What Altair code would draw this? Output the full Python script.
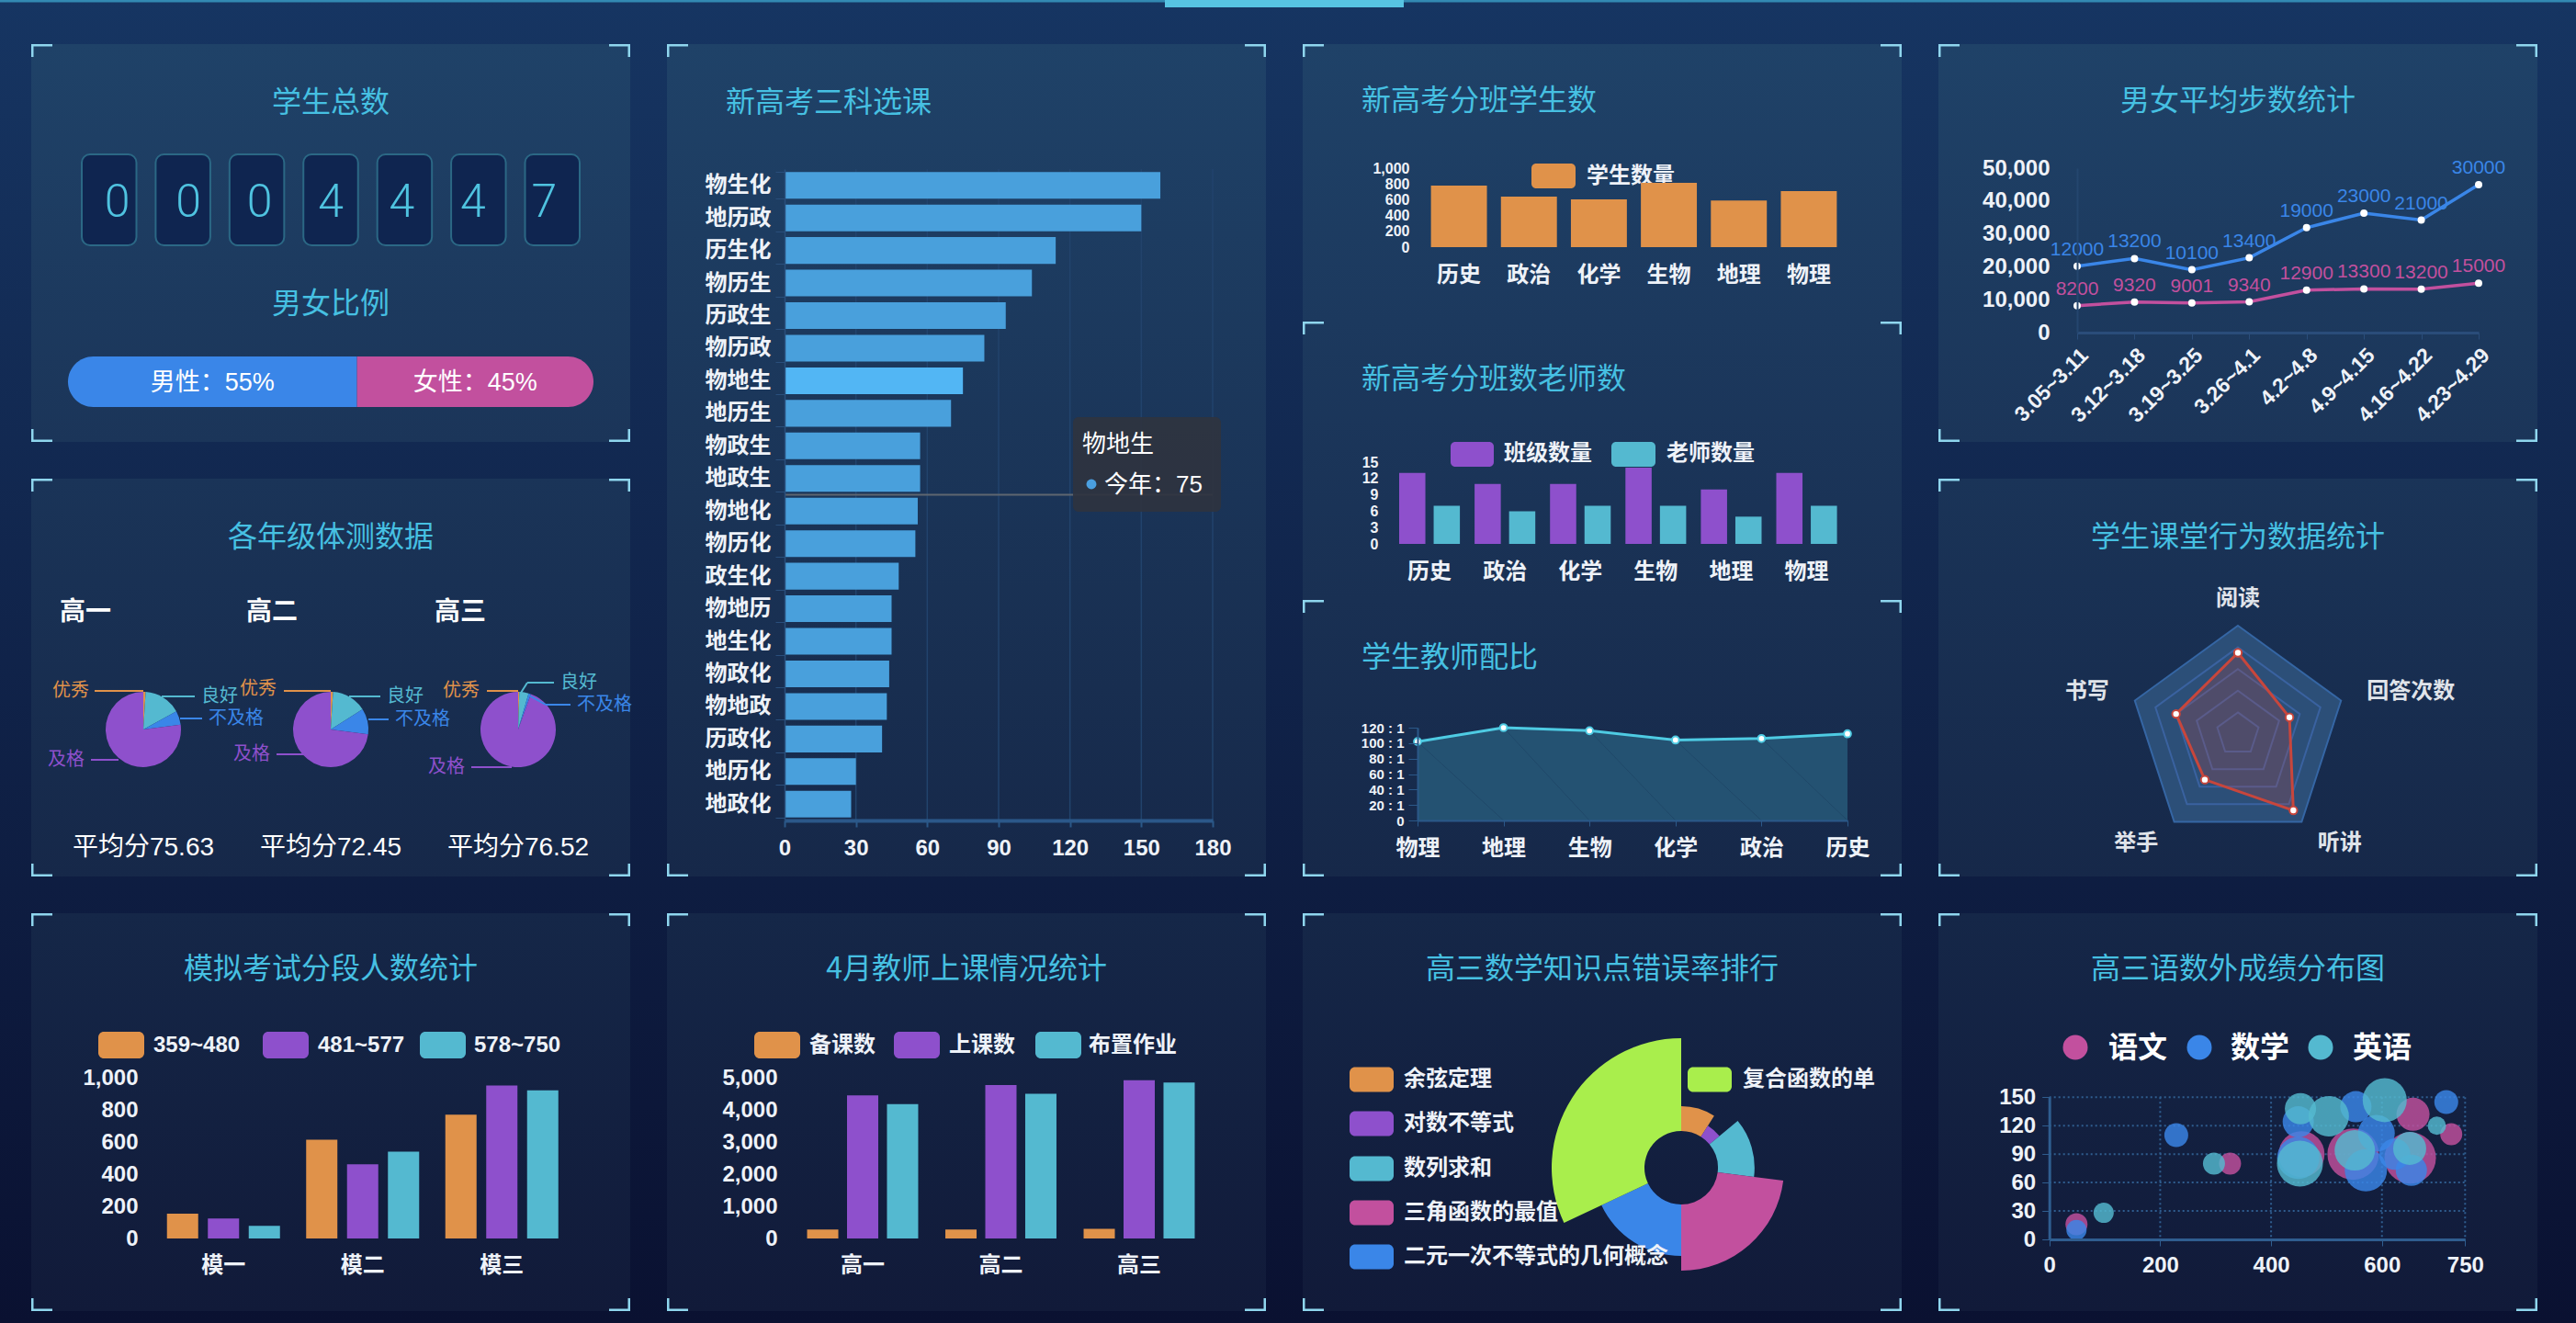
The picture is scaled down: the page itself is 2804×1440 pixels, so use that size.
import altair as alt
import pandas as pd

W, H = 2804, 1440
FONT = "Liberation Sans, Noto Sans CJK SC, sans-serif"
TFONT = "Noto Sans CJK SC, Liberation Sans, sans-serif"
LABEL = "#eef2f8"
TITLE = "#46c0e2"
ORANGE, PURPLE, TEAL, BLUE, PINK, LIME = "#e0924a", "#8e50cc", "#54b9d0", "#3a86e8", "#c2509e", "#a9ee4c"
BAR, BAR_HI = "#49a0dc", "#52b6f4"
AXC = "#2b5889"
GRIDC = "#22436c"
BRACKET = "#8fd6ee"
ZW = "\u200b"

# ------------------------------------------------------------------ data
total_digits = ["0", "0", "0", "4", "4", "4", "7"]
gender_names = ["男性", "女性"]
gender_ratio = [55, 45]

combo_names = ["物生化", "地历政", "历生化", "物历生", "历政生", "物历政", "物地生", "地历生", "物政生", "地政生",
               "物地化", "物历化", "政生化", "物地历", "地生化", "物政化", "物地政", "历政化", "地历化", "地政化"]
combo_counts = [158, 150, 114, 104, 93, 84, 75, 70, 57, 57, 56, 55, 48, 45, 45, 44, 43, 41, 30, 28]
combo_ticks = [0, 30, 60, 90, 120, 150, 180]
highlight_combo = "物地生"
tooltip_series = "今年"

class_subjects = ["历史", "政治", "化学", "生物", "地理", "物理"]
class_students = [780, 640, 605, 815, 590, 710]
student_ticks = [0, 200, 400, 600, 800, 1000]
class_series = ["班级数量", "老师数量"]
class_counts = [13, 11, 11, 14, 10, 13]
teacher_counts = [7, 6, 7, 7, 5, 7]
teacher_ticks = [0, 3, 6, 9, 12, 15]

ratio_subjects = ["物理", "地理", "生物", "化学", "政治", "历史"]
ratio_values = [102, 120, 116, 104, 106, 112]
ratio_ticks = [0, 20, 40, 60, 80, 100, 120]

weeks = ["3.05~3.11", "3.12~3.18", "3.19~3.25", "3.26~4.1", "4.2~4.8", "4.9~4.15", "4.16~4.22", "4.23~4.29"]
girls_steps = [8200, 9320, 9001, 9340, 12900, 13300, 13200, 15000]
boys_steps = [12000, 13200, 10100, 13400, 19000, 23000, 21000, 30000]
step_ticks = [0, 10000, 20000, 30000, 40000, 50000]

grades = ["高一", "高二", "高三"]
fitness_levels = ["优秀", "良好", "不及格", "及格"]
fitness_values = {"高一": [1, 16, 6, 77], "高二": [1, 15, 11, 73], "高三": [0.5, 4, 1, 94.5]}
avg_scores = ["75.63", "72.45", "76.52"]

behaviors = ["阅读", "回答次数", "听讲", "举手", "书写"]
behavior_values = [75, 50, 87, 52, 60]
radar_levels = [20, 40, 60, 80, 100]

mock_exams = ["模一", "模二", "模三"]
score_bands = ["359~480", "481~577", "578~750"]
band_359 = [155, 615, 770]
band_481 = [125, 462, 952]
band_578 = [78, 540, 922]
mock_ticks = [0, 200, 400, 600, 800, 1000]

teach_grades = ["高一", "高二", "高三"]
teach_items = ["备课数", "上课数", "布置作业"]
prep_counts = [280, 280, 300]
lesson_counts = [4450, 4770, 4920]
homework_counts = [4180, 4500, 4850]
teach_ticks = [0, 1000, 2000, 3000, 4000, 5000]

topics = ["余弦定理", "对数不等式", "数列求和", "三角函数的最值", "二元一次不等式的几何概念", "复合函数的单调性"]
topic_error = [9, 5, 13, 23, 18, 32]

score_subjects = ["语文", "数学", "英语"]
chinese_x = [49, 326, 725, 656, 455, 548, 651]
chinese_y = [16, 80, 111, 132, 90, 90, 86]
chinese_s = [12, 12, 12, 18, 25, 28, 28]
math_x = [49, 229, 716, 553, 449, 449, 571, 590, 653, 623]
math_y = [10, 110, 145, 140, 124, 86, 73, 112, 73, 90]
math_s = [11, 13, 13, 17, 17, 23, 23, 20, 17, 17]
english_x = [98, 297, 699, 605, 504, 453, 452, 551, 650]
english_y = [28, 80, 120, 147, 130, 138, 80, 94, 96]
english_s = [11, 12, 10, 24, 22, 17, 25, 22, 18]
scatter_x_ticks = [0, 200, 400, 600, 750]
scatter_y_ticks = [0, 30, 60, 90, 120, 150]

# ------------------------------------------------------------------ helpers
DUMMY = pd.DataFrame({"d": [0]})


def mix(c1, c2, t):
    t = max(0.0, min(1.0, t))
    a = [int(c1[i:i + 2], 16) for i in (1, 3, 5)]
    b = [int(c2[i:i + 2], 16) for i in (1, 3, 5)]
    return "#" + "".join(f"{round(a[i] + (b[i] - a[i]) * t):02x}" for i in range(3))


def page_col(y):
    return mix("#163562", "#0a1131", y / H)


def panel_col(y):
    return mix("#1f4268", "#111a39", (y - 48) / (1427 - 48))


def grad(c1, c2):
    return {"gradient": "linear", "x1": 0, "x2": 0, "y1": 0, "y2": 1,
            "stops": [{"offset": 0, "color": c1}, {"offset": 1, "color": c2}]}


def rect(x1, x2, y1, y2, fill, **kw):
    return alt.Chart(DUMMY).mark_rect(fill=fill, **kw).encode(
        x=alt.value(x1), x2=alt.value(x2), y=alt.value(y1), y2=alt.value(y2))


def seg(x1, y1, x2, y2, color, width=2):
    return alt.Chart(DUMMY).mark_rule(color=color, strokeWidth=width).encode(
        x=alt.value(x1), y=alt.value(y1), x2=alt.value(x2), y2=alt.value(y2))


def T(s, x, y, size=24, color=LABEL, align="left", weight="bold", font=FONT, baseline="middle", **kw):
    return alt.Chart(pd.DataFrame({"t": [s]})).mark_text(
        align=align, baseline=baseline, fontSize=size, color=color, font=font, fontWeight=weight, **kw
    ).encode(x=alt.value(x), y=alt.value(y), text="t:N")


def title(s, x, y, align="center"):
    return T(s, x, y + 2, size=32, color=TITLE, align=align, weight="normal", font=TFONT)


def ax(orient, pos, **kw):
    off = (pos - H) if orient == "bottom" else -pos
    d = dict(orient=orient, offset=off, title=None, grid=False, labelFont=FONT, labelFontSize=24,
             labelColor=LABEL, labelFontWeight="bold", labelOverlap=False, labelFlush=False,
             domain=False, ticks=False, tickSize=0, labelPadding=0, zindex=1)
    if orient == "bottom":
        d["labelAngle"] = 0
    d.update(kw)
    return alt.Axis(**d)


layers = []

# ------------------------------------------------------------------ page + panels
layers.append(rect(0, W, 0, H, grad(page_col(0), page_col(H))))
layers.append(rect(0, W, 0, 2.5, "#3389b2"))
layers.append(rect(1268, 1528, 0, 8, "#57c3e2"))

PANELS = [
    (34, 686, 48, 481, True, True),
    (726, 1378, 48, 954, True, True),
    (1418, 2070, 48, 350, True, False),
    (1418, 2070, 350, 653, True, False),
    (1418, 2070, 653, 954, True, True),
    (2110, 2762, 48, 481, True, True),
    (34, 686, 521, 954, True, True),
    (2110, 2762, 521, 954, True, True),
    (34, 686, 994, 1427, True, True),
    (726, 1378, 994, 1427, True, True),
    (1418, 2070, 994, 1427, True, True),
    (2110, 2762, 994, 1427, True, True),
]
for x0, x1, y0, y1, top, bot in PANELS:
    layers.append(rect(x0, x1, y0, y1, grad(panel_col(y0), panel_col(y1))))
for x0, x1, y0, y1, top, bot in PANELS:
    L, S, TH = 23, 14, 2.5
    if top:
        layers += [rect(x0, x0 + L, y0, y0 + TH, BRACKET), rect(x0, x0 + TH, y0, y0 + S, BRACKET),
                   rect(x1 - L, x1, y0, y0 + TH, BRACKET), rect(x1 - TH, x1, y0, y0 + S, BRACKET)]
    if bot:
        layers += [rect(x0, x0 + L, y1 - TH, y1, BRACKET), rect(x0, x0 + TH, y1 - S, y1, BRACKET),
                   rect(x1 - L, x1, y1 - TH, y1, BRACKET), rect(x1 - TH, x1, y1 - S, y1, BRACKET)]

# titles
layers += [
    title("学生总数", 360, 110), title("男女比例", 360, 329),
    title("新高考三科选课", 790, 110, "left"),
    title("新高考分班学生数", 1482, 108, "left"),
    title("新高考分班数老师数", 1482, 411, "left"),
    title("学生教师配比", 1482, 714, "left"),
    title("男女平均步数统计", 2436, 108),
    title("各年级体测数据", 360, 583),
    title("学生课堂行为数据统计", 2436, 583),
    title("模拟考试分段人数统计", 360, 1053),
    title("4月教师上课情况统计", 1052, 1053),
    title("高三数学知识点错误率排行", 1744, 1053),
    title("高三语数外成绩分布图", 2436, 1053),
]

# ------------------------------------------------------------------ A: total + gender
df_dig = pd.DataFrame({"slot": [f"s{i}" for i in range(len(total_digits))], "digit": total_digits})
xA = alt.X("slot:N", sort=None, scale=alt.Scale(range=[89, 631], paddingInner=0.26, paddingOuter=0), axis=None)
layers.append(alt.Chart(df_dig).mark_rect(fill="#0f2550", stroke="#2b6885", strokeWidth=2, cornerRadius=9)
              .encode(x=xA, y=alt.value(168), y2=alt.value(267)))
layers.append(alt.Chart(df_dig).mark_text(fontSize=50, font="Roboto, Liberation Sans, sans-serif", fontWeight=300,
                                          color="#4fc3e0", baseline="middle")
              .encode(x=xA, y=alt.value(221), text="digit:N"))

df_gen = pd.DataFrame({"g": gender_names, "p": gender_ratio, "o": [0, 1]})
sA = alt.Scale(domain=[0, 100], range=[74, 646], nice=False)


def gstack(ch):
    return ch.transform_stack(stack="p", groupby=[], as_=["p0", "p1"], sort=[alt.SortField("o", order="ascending")])


layers.append(gstack(alt.Chart(df_gen)).transform_filter(alt.datum.o == 0)
              .mark_rect(color=BLUE, cornerRadiusTopLeft=27.5, cornerRadiusBottomLeft=27.5)
              .encode(x=alt.X("p0:Q", scale=sA, axis=None), x2="p1:Q", y=alt.value(388), y2=alt.value(443)))
layers.append(gstack(alt.Chart(df_gen)).transform_filter(alt.datum.o == 1)
              .mark_rect(color=PINK, cornerRadiusTopRight=27.5, cornerRadiusBottomRight=27.5)
              .encode(x=alt.X("p0:Q", scale=sA, axis=None), x2="p1:Q", y=alt.value(388), y2=alt.value(443)))
layers.append(gstack(alt.Chart(df_gen))
              .transform_calculate(mid="(datum.p0 + datum.p1) / 2", lbl="datum.g + '：' + datum.p + '%'")
              .mark_text(fontSize=27, font=FONT, color="white", baseline="middle")
              .encode(x=alt.X("mid:Q", scale=sA, axis=None), y=alt.value(417), text="lbl:N"))

# ------------------------------------------------------------------ B: horizontal bar
df_combo = pd.DataFrame({"combo": combo_names, "count": combo_counts})
sBx = alt.Scale(domain=[0, 180], range=[854, 1320], nice=False, zero=True)
sBy = alt.Scale(range=[184, 893], paddingInner=0.18, paddingOuter=0.09)
layers.append(alt.Chart(pd.DataFrame({"t": combo_ticks[1:]})).mark_rule(color=GRIDC, strokeWidth=1.5)
              .encode(x=alt.X("t:Q", scale=sBx, axis=None), y=alt.value(184), y2=alt.value(893)))
layers.append(alt.Chart(df_combo).mark_bar().encode(
    x=alt.X("count:Q", scale=sBx,
            axis=ax("bottom", 893, values=combo_ticks, domain=True, domainColor=AXC, domainWidth=4,
                    ticks=True, tickSize=7, tickColor=AXC, tickWidth=2, labelPadding=11, format="d")),
    y=alt.Y("combo:N", sort=combo_names, scale=sBy,
            axis=ax("left", 854, domain=True, domainColor="#2a4f7c", domainWidth=1.5, ticks=True, tickSize=10,
                    tickColor="#2a4f7c", tickBand="extent", labelPadding=5, labelFont=TFONT)),
    color=alt.condition(alt.datum.combo == highlight_combo, alt.value(BAR_HI), alt.value(BAR))))
layers.append(alt.Chart(df_combo).transform_filter(alt.datum.combo == highlight_combo)
              .mark_rule(color="#5f6670", strokeWidth=2)
              .encode(y=alt.Y("combo:N", sort=combo_names, scale=sBy, axis=None),
                      x=alt.value(854), x2=alt.value(1320)))
layers.append(rect(1168, 1329, 454, 557, "#2e3440", opacity=0.93, cornerRadius=6))
layers.append(alt.Chart(df_combo).transform_filter(alt.datum.combo == highlight_combo)
              .mark_text(align="left", baseline="middle", fontSize=26, font=FONT, color="white")
              .encode(x=alt.value(1178), y=alt.value(484), text="combo:N"))
layers.append(alt.Chart(DUMMY).mark_circle(color="#4a9fe0", size=120, opacity=1)
              .encode(x=alt.value(1188), y=alt.value(527)))
layers.append(alt.Chart(df_combo).transform_filter(alt.datum.combo == highlight_combo)
              .transform_calculate(lbl=f"'{tooltip_series}：' + datum.count")
              .mark_text(align="left", baseline="middle", fontSize=26, font=FONT, color="white")
              .encode(x=alt.value(1202), y=alt.value(528), text="lbl:N"))

# ------------------------------------------------------------------ C1: students per class
df_cs = pd.DataFrame({"sub": class_subjects, "n": class_students})
layers.append(rect(1667, 1715, 178, 205, ORANGE, cornerRadius=5))
layers.append(T("学生数量", 1727, 192, font=TFONT))
layers.append(alt.Chart(df_cs).mark_bar(color=ORANGE).encode(
    x=alt.X("sub:N", sort=class_subjects, scale=alt.Scale(range=[1550, 2007], paddingInner=0.2, paddingOuter=0.1),
            axis=ax("bottom", 269, labelPadding=18, labelFont=TFONT)),
    y=alt.Y("n:Q", scale=alt.Scale(domain=[0, 1000], range=[269, 183], nice=False),
            axis=ax("left", 1534, values=student_ticks, format=",d", labelFontSize=16))))

# ------------------------------------------------------------------ C2: classes & teachers
rows = []
for i, s in enumerate(class_subjects):
    rows.append({"sub": s, "ser": class_series[0], "n": class_counts[i]})
    rows.append({"sub": s, "ser": class_series[1], "n": teacher_counts[i]})
df_ct = pd.DataFrame(rows)
layers.append(rect(1579, 1626, 481, 508, PURPLE, cornerRadius=5))
layers.append(T(class_series[0], 1637, 494, font=TFONT))
layers.append(rect(1754, 1802, 481, 508, TEAL, cornerRadius=5))
layers.append(T(class_series[1], 1814, 494, font=TFONT))
layers.append(alt.Chart(df_ct).mark_bar().encode(
    x=alt.X("sub:N", sort=class_subjects, scale=alt.Scale(range=[1515, 2007.6], paddingInner=0, paddingOuter=0),
            axis=ax("bottom", 592, labelPadding=18, labelFont=TFONT)),
    xOffset=alt.XOffset("ser:N", sort=class_series, scale=alt.Scale(paddingInner=0.24, paddingOuter=0.213)),
    y=alt.Y("n:Q", scale=alt.Scale(domain=[0, 15], range=[592, 503], nice=False),
            axis=ax("left", 1500, values=teacher_ticks, format="d", labelFontSize=16)),
    color=alt.Color("ser:N", scale=alt.Scale(domain=class_series, range=[PURPLE, TEAL]), legend=None)))

# ------------------------------------------------------------------ C3: student/teacher ratio
df_ratio = pd.DataFrame({"sub": ratio_subjects, "v": ratio_values, "i": range(len(ratio_subjects))})
sC3x = alt.Scale(type="point", range=[1543, 2011], padding=0)
sC3y = alt.Scale(domain=[0, 120], range=[893, 792], nice=False)
layers.append(alt.Chart(df_ratio).mark_area(color="#245272", opacity=1).encode(
    x=alt.X("sub:N", sort=ratio_subjects, scale=sC3x,
            axis=ax("bottom", 893, domain=True, domainColor=AXC, domainWidth=2, ticks=True, tickSize=6,
                    tickColor=AXC, labelPadding=12, labelFont=TFONT)),
    y=alt.Y("v:Q", scale=sC3y,
            axis=ax("left", 1543, values=ratio_ticks, domain=True, domainColor=AXC, domainWidth=2, ticks=True,
                    tickSize=10, tickColor=AXC, labelPadding=5, labelFontSize=15, format="d",
                    labelExpr="datum.value == 0 ? '0' : datum.label + ' : 1'")),
    order=alt.Order("i:Q")))
layers.append(alt.Chart(df_ratio).mark_line(color="#4ecbe3", strokeWidth=3).encode(
    x=alt.X("sub:N", sort=ratio_subjects, scale=sC3x, axis=None),
    y=alt.Y("v:Q", scale=sC3y, axis=None), order=alt.Order("i:Q")))
layers.append(alt.Chart(df_ratio).mark_point(filled=True, fill="white", stroke="#4ecbe3", strokeWidth=2,
                                             size=60, opacity=1).encode(
    x=alt.X("sub:N", sort=ratio_subjects, scale=sC3x, axis=None),
    y=alt.Y("v:Q", scale=sC3y, axis=None)))

# ------------------------------------------------------------------ D: stacked steps line
rows = []
for i, w in enumerate(weeks):
    rows.append({"week": w, "sex": "女", "steps": girls_steps[i], "o": 0, "wi": i})
    rows.append({"week": w, "sex": "男", "steps": boys_steps[i], "o": 1, "wi": i})
df_steps = pd.DataFrame(rows)


def dstack(ch):
    return ch.transform_stack(stack="steps", groupby=["week"], as_=["s0", "s1"],
                              sort=[alt.SortField("o", order="ascending")])


sDx = alt.Scale(type="point", range=[2261, 2698], padding=0)
sDy = alt.Scale(domain=[0, 50000], range=[362, 183], nice=False)
colD = alt.Color("sex:N", scale=alt.Scale(domain=["男", "女"], range=[BLUE, PINK]), legend=None)
layers.append(dstack(alt.Chart(df_steps)).mark_line(strokeWidth=3.5).encode(
    x=alt.X("week:N", sort=weeks, scale=sDx,
            axis=ax("bottom", 362, domain=True, domainColor="#2a4d7a", domainWidth=3, ticks=True, tickSize=7,
                    tickColor="#2a4d7a", labelAngle=315, labelFontSize=23, labelPadding=6)),
    y=alt.Y("s1:Q", scale=sDy,
            axis=ax("left", 2261, values=step_ticks, format=",d", domain=True, domainColor="#24466f",
                    domainWidth=2, labelPadding=30)),
    color=colD, order=alt.Order("wi:Q")))
layers.append(dstack(alt.Chart(df_steps)).mark_circle(color="white", size=64, opacity=1).encode(
    x=alt.X("week:N", sort=weeks, scale=sDx, axis=None),
    y=alt.Y("s1:Q", scale=sDy, axis=None)))
layers.append(dstack(alt.Chart(df_steps)).mark_text(baseline="bottom", dy=-8, fontSize=21, font=FONT).encode(
    x=alt.X("week:N", sort=weeks, scale=sDx, axis=None),
    y=alt.Y("s1:Q", scale=sDy, axis=None),
    text=alt.Text("steps:Q", format="d"), color=colD))

# ------------------------------------------------------------------ E: fitness pies
rows = []
for g in grades:
    for k, lv in enumerate(fitness_levels):
        rows.append({"grade": g, "level": lv, "v": fitness_values[g][k], "k": k})
df_fit = pd.DataFrame(rows)
LVCOL = [ORANGE, TEAL, BLUE, PURPLE]
colE = alt.Color("level:N", scale=alt.Scale(domain=fitness_levels, range=LVCOL), legend=None)
pie_cx = [156, 360, 564]
for gi, g in enumerate(grades):
    layers.append(T(g, [65, 268, 473][gi], 667, size=28, color="white", font=TFONT))
    layers.append(alt.Chart(df_fit).transform_filter(alt.datum.grade == g).mark_arc(radius=41).encode(
        theta=alt.Theta("v:Q", stack=True), color=colE, order=alt.Order("k:Q"),
        x=alt.value(pie_cx[gi]), y=alt.value(794)))
    layers.append(T("平均分" + avg_scores[gi], pie_cx[gi], 923, size=28, color="white", align="center",
                    weight="normal"))

# label layout (style): per grade, per level -> (text x, text y, align, leader segments)
E_LAYOUT = [
    [(97, 752, "right", [(103, 752, 156, 752)]),
     (219, 758, "left", [(176, 758, 212, 758)]),
     (227, 782, "left", [(196, 782, 220, 782)]),
     (92, 827, "right", [(99, 827, 129, 827)])],
    [(301, 750, "right", [(309, 752, 360, 752)]),
     (421, 758, "left", [(380, 758, 414, 758)]),
     (430, 783, "left", [(401, 783, 423, 783)]),
     (294, 821, "right", [(301, 821, 331, 821)])],
    [(522, 752, "right", [(530, 752, 564, 752)]),
     (610, 743, "left", [(567, 754, 574, 743), (574, 743, 603, 743)]),
     (628, 767, "left", [(576, 757, 594, 767), (594, 767, 621, 767)]),
     (506, 835, "right", [(513, 835, 557, 835)])],
]
for gi in range(3):
    for k, lv in enumerate(fitness_levels):
        tx, ty, al, segs = E_LAYOUT[gi][k]
        for (a, b, c, d) in segs:
            layers.append(seg(a, b, c, d, LVCOL[k], 2))
        layers.append(T(lv, tx, ty, size=20, color=LVCOL[k], align=al, weight="normal", font=TFONT))

# ------------------------------------------------------------------ F: radar
df_beh = pd.DataFrame({"dim": behaviors, "val": behavior_values, "idx": range(5)})
rows = [{"level": lv, "idx": i, "val": lv} for lv in radar_levels for i in range(5)]
df_grid = pd.DataFrame(rows)
sRx = alt.Scale(domain=[-100, 100], range=[2318, 2554], nice=False, zero=False)
sRy = alt.Scale(domain=[-100, 100], range=[917, 681], nice=False, zero=False)


def polar(ch, r="datum.val"):
    return ch.transform_calculate(ang="datum.idx * 2 * PI / 5").transform_calculate(
        px=f"{r} * sin(datum.ang)").transform_calculate(py=f"{r} * cos(datum.ang)")


RX = alt.X("px:Q", scale=sRx, axis=None)
RY = alt.Y("py:Q", scale=sRy, axis=None)
layers.append(polar(alt.Chart(df_grid)).transform_filter(alt.datum.level == 100)
              .mark_line(interpolate="linear-closed", fill="#2c4f78", stroke="#3566a4", strokeWidth=2)
              .encode(x=RX, y=RY, order=alt.Order("idx:Q")))
layers.append(polar(alt.Chart(df_grid)).transform_filter(alt.datum.level < 100)
              .mark_line(interpolate="linear-closed", stroke="#3a62a0", strokeWidth=2)
              .encode(x=RX, y=RY, detail="level:N", order=alt.Order("idx:Q")))
layers.append(polar(alt.Chart(df_beh))
              .mark_line(interpolate="linear-closed", fill="rgba(205,70,60,0.22)", stroke="#c8463c", strokeWidth=3)
              .encode(x=RX, y=RY, order=alt.Order("idx:Q")))
layers.append(polar(alt.Chart(df_beh))
              .mark_point(filled=True, fill="white", stroke="#c8463c", strokeWidth=2, size=70, opacity=1)
              .encode(x=RX, y=RY))
for al, cond in [("center", "datum.idx == 0"), ("left", "datum.idx == 1 || datum.idx == 2"),
                 ("right", "datum.idx == 3 || datum.idx == 4")]:
    layers.append(polar(alt.Chart(df_beh), r="125").transform_filter(cond)
                  .mark_text(align=al, baseline="middle", fontSize=24, font=TFONT, fontWeight="bold",
                             color="#e0e4ea")
                  .encode(x=RX, y=RY, text="dim:N"))

# ------------------------------------------------------------------ G: mock exam grouped bars
rows = []
for i, e in enumerate(mock_exams):
    for b, vals in zip(score_bands, [band_359, band_481, band_578]):
        rows.append({"exam": e, "band": b, "n": vals[i]})
df_mock = pd.DataFrame(rows)
for j, (x0, tx) in enumerate([(107, 167), (286, 346), (457, 516)]):
    layers.append(rect(x0, x0 + 50, 1123, 1152, [ORANGE, PURPLE, TEAL][j], cornerRadius=6))
    layers.append(T(score_bands[j], tx, 1138))
layers.append(alt.Chart(df_mock).mark_bar().encode(
    x=alt.X("exam:N", sort=mock_exams, scale=alt.Scale(range=[167.5, 622], paddingInner=0, paddingOuter=0),
            axis=ax("bottom", 1348, labelPadding=17, labelFont=TFONT)),
    xOffset=alt.XOffset("band:N", sort=score_bands, scale=alt.Scale(paddingInner=0.236, paddingOuter=0.32)),
    y=alt.Y("n:Q", scale=alt.Scale(domain=[0, 1000], range=[1348, 1173], nice=False),
            axis=ax("left", 150, values=mock_ticks, format=",d")),
    color=alt.Color("band:N", scale=alt.Scale(domain=score_bands, range=[ORANGE, PURPLE, TEAL]), legend=None)))

# ------------------------------------------------------------------ H: teaching grouped bars
rows = []
for i, g in enumerate(teach_grades):
    for it, vals in zip(teach_items, [prep_counts, lesson_counts, homework_counts]):
        rows.append({"grade": g, "item": it, "n": vals[i]})
df_teach = pd.DataFrame(rows)
for j, (x0, tx) in enumerate([(821, 881), (973, 1033), (1127, 1185)]):
    layers.append(rect(x0, x0 + 50, 1123, 1152, [ORANGE, PURPLE, TEAL][j], cornerRadius=6))
    layers.append(T(teach_items[j], tx, 1138, font=TFONT))
layers.append(alt.Chart(df_teach).mark_bar().encode(
    x=alt.X("grade:N", sort=teach_grades, scale=alt.Scale(range=[863.75, 1315.25], paddingInner=0, paddingOuter=0),
            axis=ax("bottom", 1348, labelPadding=17, labelFont=TFONT)),
    xOffset=alt.XOffset("item:N", sort=teach_items, scale=alt.Scale(paddingInner=0.218, paddingOuter=0.34)),
    y=alt.Y("n:Q", scale=alt.Scale(domain=[0, 5000], range=[1348, 1173], nice=False),
            axis=ax("left", 846, values=teach_ticks, format=",d")),
    color=alt.Color("item:N", scale=alt.Scale(domain=teach_items, range=[ORANGE, PURPLE, TEAL]), legend=None)))

# ------------------------------------------------------------------ I: rose chart
TOPCOL = [ORANGE, PURPLE, TEAL, PINK, BLUE, LIME]
df_topic = pd.DataFrame({"topic": topics, "err": topic_error, "k": range(len(topics))})
layers.append(alt.Chart(df_topic).mark_arc(innerRadius=40).encode(
    theta=alt.Theta("err:Q", stack=True),
    radius=alt.Radius("err:Q", scale=alt.Scale(type="linear", domain=[0, 32], range=[38, 141], zero=True)),
    color=alt.Color("topic:N", scale=alt.Scale(domain=topics, range=TOPCOL), legend=None),
    order=alt.Order("k:Q"), x=alt.value(1830), y=alt.value(1271)))
for j, yc in enumerate([1175, 1223, 1272, 1320, 1368]):
    layers.append(rect(1469, 1517, yc - 13.5, yc + 13.5, TOPCOL[j], cornerRadius=6))
    layers.append(T(topics[j], 1528, yc, font=TFONT))
layers.append(rect(1837, 1885, 1161.5, 1188.5, TOPCOL[5], cornerRadius=6))
layers.append(T(topics[5], 1897, 1175, font=TFONT, limit=150, ellipsis=ZW))

# ------------------------------------------------------------------ J: bubble scatter
rows = []
order_i = 0
for subj, xs, ys, ss in [("语文", chinese_x, chinese_y, chinese_s), ("数学", math_x, math_y, math_s),
                         ("英语", english_x, english_y, english_s)]:
    for a, b, c in zip(xs, ys, ss):
        rows.append({"subj": subj, "sx": a, "sy": b, "s": c, "ord": order_i})
        order_i += 1
df_bub = pd.DataFrame(rows)
sJx = alt.Scale(domain=[0, 750], range=[2230.7, 2683.3], nice=False, zero=True)
sJy = alt.Scale(domain=[0, 150], range=[1349, 1194.3], nice=False, zero=True)
layers.append(alt.Chart(pd.DataFrame({"t": scatter_y_ticks[1:]}))
              .mark_rule(color="#2f5d8f", strokeWidth=2, strokeDash=[2, 3])
              .encode(y=alt.Y("t:Q", scale=sJy, axis=None), x=alt.value(2230.7), x2=alt.value(2683.3)))
layers.append(alt.Chart(pd.DataFrame({"t": scatter_x_ticks[1:]}))
              .mark_rule(color="#2f5d8f", strokeWidth=2, strokeDash=[2, 3])
              .encode(x=alt.X("t:Q", scale=sJx, axis=None), y=alt.value(1194.3), y2=alt.value(1349)))
layers.append(alt.Chart(df_bub).mark_circle(opacity=0.82).encode(
    x=alt.X("sx:Q", scale=sJx,
            axis=ax("bottom", 1349, values=scatter_x_ticks, domain=True, domainColor="#2f5d8f", domainWidth=3,
                    ticks=True, tickSize=7, tickColor="#2f5d8f", labelPadding=9, format="d")),
    y=alt.Y("sy:Q", scale=sJy,
            axis=ax("left", 2230.7, values=scatter_y_ticks, domain=True, domainColor="#2f5d8f", domainWidth=3,
                    ticks=True, tickSize=8, tickColor="#2f5d8f", labelPadding=7, format="d")),
    size=alt.Size("s:Q", scale=alt.Scale(type="pow", exponent=2, domain=[0, 30], range=[0, 3600]), legend=None),
    color=alt.Color("subj:N", scale=alt.Scale(domain=score_subjects, range=[PINK, BLUE, TEAL]), legend=None),
    order=alt.Order("ord:Q")))
for j, (cx, tx) in enumerate([(2259, 2295), (2394, 2428), (2526, 2561)]):
    layers.append(alt.Chart(DUMMY).mark_circle(color=[PINK, BLUE, TEAL][j], size=729, opacity=1)
                  .encode(x=alt.value(cx), y=alt.value(1140)))
    layers.append(T(score_subjects[j], tx, 1141, size=32, color="white", font=TFONT))

# ------------------------------------------------------------------ assemble
chart = alt.layer(*layers).resolve_scale(
    x="independent", y="independent", color="independent", theta="independent",
    radius="independent", size="independent", xOffset="independent"
).properties(
    width=W, height=H, padding=0, autosize=alt.AutoSizeParams(type="none"), background=page_col(H)
).configure_view(strokeWidth=0, stroke="transparent")

chart.save("out.html", embed_options={"renderer": "svg", "actions": False})
